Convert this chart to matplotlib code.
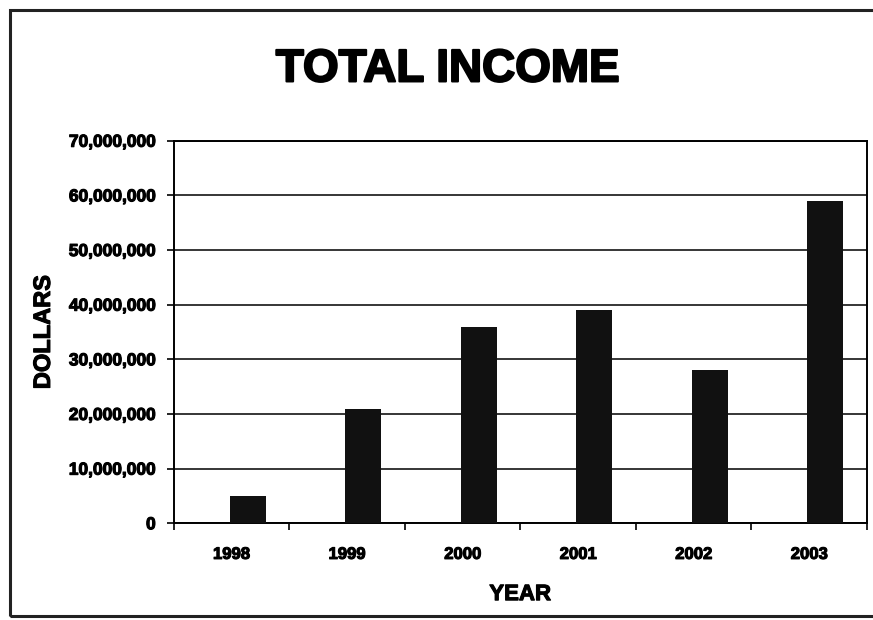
import numpy as np
import matplotlib.pyplot as plt
import matplotlib.patheffects as pe
from matplotlib.patches import Rectangle
from matplotlib.ticker import FuncFormatter, MultipleLocator

years = ["1998", "1999", "2000", "2001", "2002", "2003"]
income = [5_000_000, 21_000_000, 36_000_000, 39_000_000, 28_000_000, 59_000_000]

plt.rcParams["font.family"] = ["Liberation Sans", "DejaVu Sans"]
plt.rcParams["font.weight"] = "bold"

heavy = [pe.withStroke(linewidth=0.8, foreground="black")]

fig = plt.figure(figsize=(8.73, 6.2), dpi=100)
ax = fig.add_axes([0.199, 0.156, 0.794, 0.617])

x = np.arange(len(years))
ax.bar(x + 0.14, income, width=0.31, color="#111111", zorder=3)

ax.set_xlim(-0.5, len(years) - 0.5)
ax.set_ylim(0, 70_000_000)
ax.yaxis.set_major_locator(MultipleLocator(10_000_000))
ax.yaxis.set_major_formatter(FuncFormatter(lambda v, p: f"{int(v):,}"))
ax.grid(axis="y", color="black", lw=1.1, zorder=1)

ax.set_xticks(x)
ax.set_xticklabels(years)
ax.set_xticks(np.arange(len(years) + 1) - 0.5, minor=True)
ax.tick_params(axis="x", which="major", length=0, pad=17, labelsize=12)
ax.tick_params(axis="x", which="minor", length=5, width=1.2, direction="out")
ax.tick_params(axis="y", length=5, width=1.2, pad=8, labelsize=12.5)
for lbl in ax.get_xticklabels() + ax.get_yticklabels():
    lbl.set_fontweight("bold")
    lbl.set_path_effects(heavy)

for s in ax.spines.values():
    s.set_linewidth(1.4)

ax.set_xlabel("YEAR", fontsize=16, fontweight="bold", labelpad=16,
              path_effects=heavy)
ax.set_ylabel("DOLLARS", fontsize=17, fontweight="bold", labelpad=10,
              path_effects=heavy)
fig.text(0.513, 0.888, "TOTAL INCOME", ha="center", va="center",
         fontsize=33, fontweight="bold",
         path_effects=[pe.withStroke(linewidth=1.5, foreground="black")])

# scanned page border
fig.patches.append(Rectangle((0.011, 0.006), 1.2, 0.978, transform=fig.transFigure,
                             fill=False, lw=2.2, edgecolor="#222222"))

fig.savefig("out.png", dpi=100)
